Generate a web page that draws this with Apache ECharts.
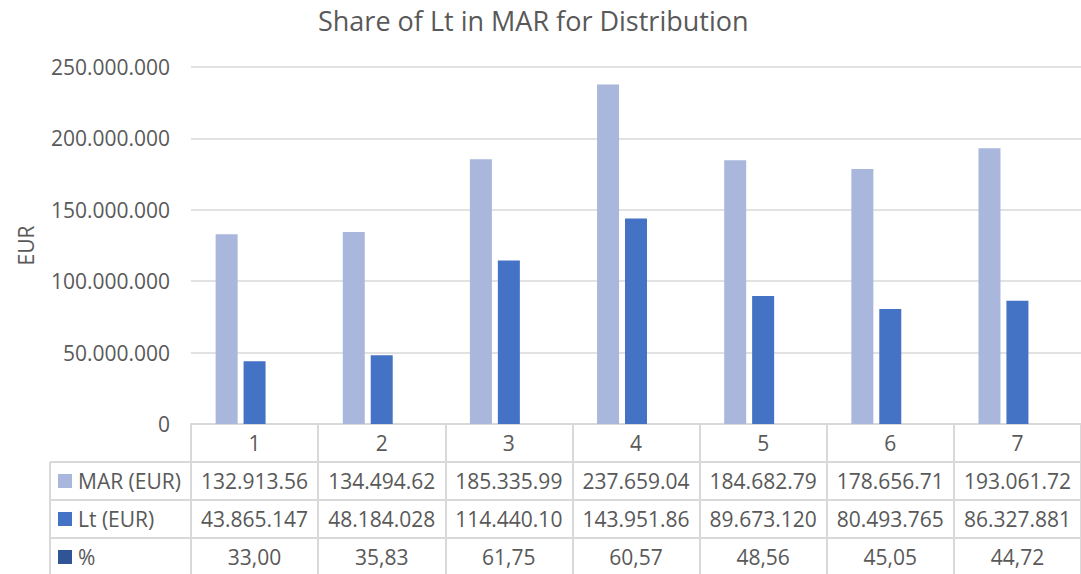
<!DOCTYPE html>
<html lang="en">

<head>
  <meta charset="UTF-8">
  <title>Share of Lt in MAR for Distribution</title>
  <script src="https://cdn.jsdelivr.net/npm/echarts@6/dist/echarts.min.js"></script>
  <style>
    html, body { margin: 0; padding: 0; background: #fff; }
    #c1 { width: 1081px; height: 574px; }
  </style>
</head>

<body>
<div id="c1"></div>

<script>
  // data
  var categories = ['1', '2', '3', '4', '5', '6', '7'];
  var marValues = [132913560, 134494620, 185335990, 237659040, 184682790, 178656710, 193061720];
  var ltValues = [43865147, 48184028, 114440100, 143951860, 89673120, 80493765, 86327881];
  var pctValues = [33.00, 35.83, 61.75, 60.57, 48.56, 45.05, 44.72];
  var seriesNames = ['MAR (EUR)', 'Lt (EUR)', '%'];
  var seriesColors = ['#A9B7DC', '#4472C4', '#2F5597'];

  var textColor = '#595959';
  var lineColor = '#D9D9D9';
  var font = 'Open Sans';
  var fs = 21;

  // 1.234.567 style
  function dots(v) {
    return String(Math.round(v)).replace(/\B(?=(\d{3})+(?!\d))/g, '.');
  }
  // cells in the data table are cut off at 10 chars, like in the picture
  function cell(v) {
    return dots(v).slice(0, 10);
  }
  function pct(v) {
    return v.toFixed(2).replace('.', ',');
  }

  var chartDom = document.getElementById('c1');
  var myChart = echarts.init(chartDom, null, { renderer: 'svg' });
  var option;

  var grid = { left: 191, right: 0, top: 67, bottom: 150 };

  option = {
    animation: false,
    title: {
      text: 'Share of Lt in MAR for Distribution',
      left: 313,
      top: 2,
      textStyle: { fontFamily: font, fontSize: 27, fontWeight: 'normal', color: textColor }
    },
    grid: grid,
    xAxis: {
      type: 'category',
      data: categories,
      axisLine: { lineStyle: { color: lineColor, width: 2 } },
      axisTick: { show: true, alignWithLabel: false, length: 152, lineStyle: { color: lineColor, width: 2 } },
      axisLabel: { margin: 8, fontFamily: font, fontSize: fs, color: textColor }
    },
    yAxis: {
      type: 'value',
      min: 0,
      max: 250000000,
      interval: 50000000,
      name: 'EUR',
      nameLocation: 'middle',
      nameGap: 155,
      nameTextStyle: { fontFamily: font, fontSize: fs, color: textColor },
      axisLine: { show: false },
      axisTick: { show: false },
      splitLine: { lineStyle: { color: lineColor, width: 1.5 } },
      axisLabel: {
        margin: 21,
        fontFamily: font,
        fontSize: fs,
        color: textColor,
        formatter: function (v) { return dots(v); }
      }
    },
    series: [
      { name: seriesNames[0], type: 'bar', data: marValues, barWidth: 22, barGap: '27%', itemStyle: { color: seriesColors[0] } },
      { name: seriesNames[1], type: 'bar', data: ltValues, barWidth: 22, barGap: '27%', itemStyle: { color: seriesColors[1] } },
      { name: seriesNames[2], type: 'bar', data: pctValues, barWidth: 22, barGap: '27%', itemStyle: { color: seriesColors[2] } }
    ]
  };

  option && myChart.setOption(option);

  // data table under the axis
  function buildTable() {
    var rows = [
      marValues.map(cell),
      ltValues.map(cell),
      pctValues.map(pct)
    ];
    var rowTop = 462, rowH = 38, tableLeft = 50, tableRight = 1081;
    var els = [];

    for (var r = 0; r < 3; r++) {
      var y = rowTop + r * rowH;
      els.push({
        type: 'line',
        shape: { x1: tableLeft, y1: y, x2: tableRight, y2: y },
        style: { stroke: lineColor, lineWidth: 2 }
      });
      // legend key + row name
      els.push({
        type: 'rect',
        shape: { x: 58, y: y + 12, width: 14, height: 14 },
        style: { fill: seriesColors[r] }
      });
      els.push({
        type: 'text',
        style: {
          x: 78, y: y + rowH / 2, text: seriesNames[r],
          fontFamily: font, fontSize: fs, fill: textColor, textVerticalAlign: 'middle', verticalAlign: 'middle'
        }
      });
      for (var i = 0; i < categories.length; i++) {
        var cx = myChart.convertToPixel({ xAxisIndex: 0 }, categories[i]);
        els.push({
          type: 'text',
          style: {
            x: cx, y: y + rowH / 2, text: rows[r][i],
            fontFamily: font, fontSize: fs, fill: textColor,
            textAlign: 'center', align: 'center', textVerticalAlign: 'middle', verticalAlign: 'middle'
          }
        });
      }
    }
    els.push({
      type: 'line',
      shape: { x1: tableLeft, y1: rowTop, x2: tableLeft, y2: 574 },
      style: { stroke: lineColor, lineWidth: 2 }
    });

    myChart.setOption({ graphic: els });
  }

  buildTable();
</script>

</body>

</html>
